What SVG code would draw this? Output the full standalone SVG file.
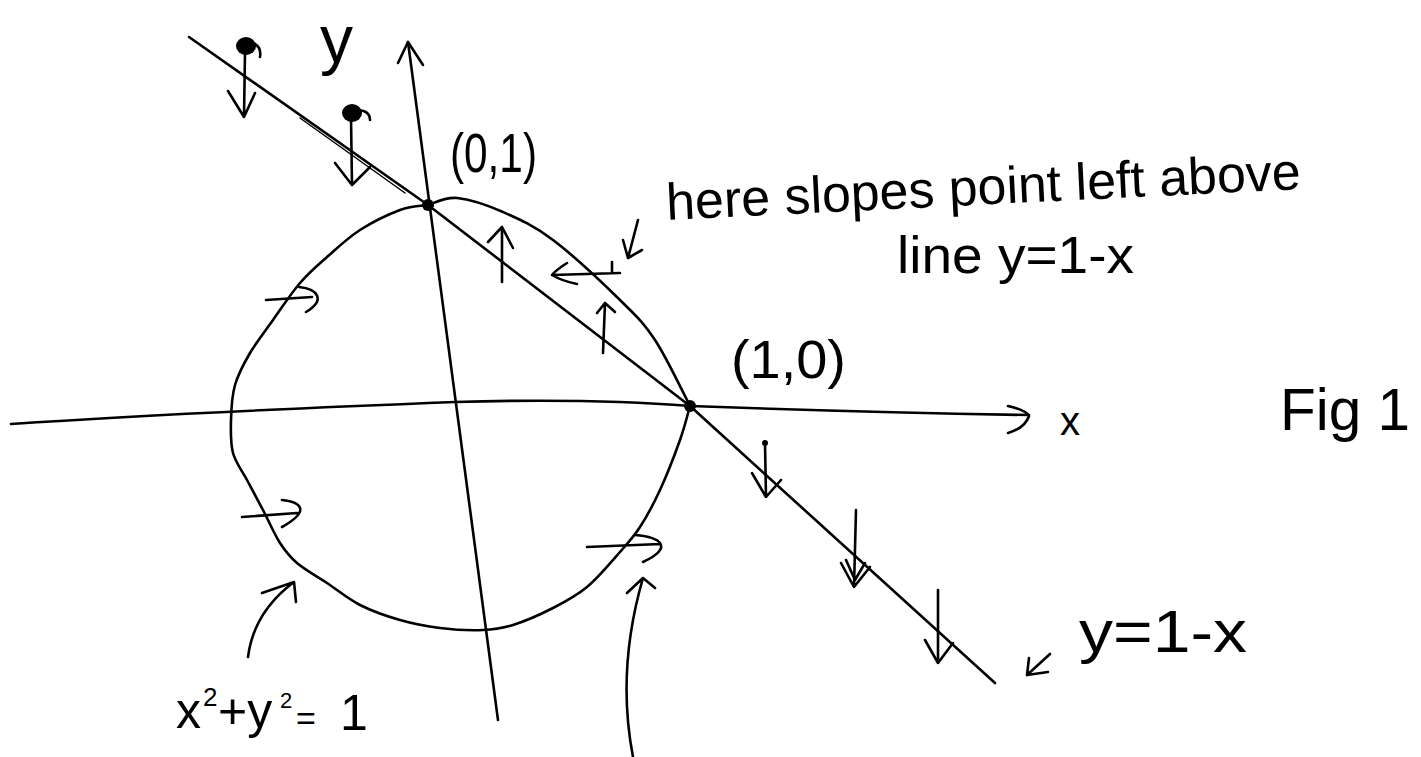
<svg xmlns="http://www.w3.org/2000/svg" width="1421" height="757" viewBox="0 0 1421 757">
<style>
.s{fill:none;stroke:#000;stroke-width:2.6;stroke-linecap:round;stroke-linejoin:round}
.t{font-family:"Liberation Sans",Arial,sans-serif;fill:#000}
.dot{fill:#000}
</style>
<rect width="1421" height="757" fill="#fff"/>
<g id="axes">
<path class="s" d="M11,424 C100,418 250,410 455,402 C560,399 640,402 690,406 C800,410 900,413 1029,415"/>
<path class="s" d="M1008,406 Q1026,410 1029,416 Q1025,428 1008,433"/>
<path class="s" d="M498,720 L408,42"/>
<path class="s" d="M398,63 L408,42 L423,65"/>
</g>
<g id="line-y-1-x">
<path class="s" d="M189,37 L428,205 L690,406 L995,683"/>
<path class="s" style="stroke-width:1.5" d="M300,118 L405,193"/>
</g>
<g id="circle">
<path class="s" d="M428,205 C432.8,203.8 444.5,196.8 457,198 C469.5,199.2 487,205 503,212 C519,219 533.5,225.3 553,240 C572.5,254.7 603,283.3 620,300 C637,316.7 643.3,322.3 655,340 C666.7,357.7 684.2,395 690,406"/>
<path class="s" d="M690,406 C688.3,411.7 685,426 680,440 C675,454 666.7,475.5 660,490 C653.3,504.5 646.7,516.7 640,527 C633.3,537.3 628.8,542 620,552 C611.2,562 598.2,577.7 587,587 C575.8,596.3 565.3,601.7 553,608 C540.7,614.3 524.7,621.3 513,625 C501.3,628.7 495.2,629.5 483,630 C470.8,630.5 453.8,629.7 440,628 C426.2,626.3 413.3,623.8 400,620 C386.7,616.2 372.2,611.2 360,605 C347.8,598.8 337.5,590 327,583 C316.5,576 304.8,569.7 297,563 C289.2,556.3 285.7,551.8 280,543 C274.3,534.2 268.5,520.5 263,510 C257.5,499.5 252,489.5 247,480 C242,470.5 235.7,463 233,453 C230.3,443 230.7,431.3 231,420 C231.3,408.7 231.8,396.2 235,385 C238.2,373.8 243.7,363.8 250,353 C256.3,342.2 264.7,331.7 273,320 C281.3,308.3 291,293.5 300,283 C309,272.5 317,265.8 327,257 C337,248.2 347.8,237.8 360,230 C372.2,222.2 388.7,214.2 400,210 C411.3,205.8 423.3,205.8 428,205"/>
</g>
<g id="points">
<circle class="dot" cx="428" cy="205" r="6"/>
<circle class="dot" cx="690" cy="406" r="6"/>
</g>
<g id="slope-arrows">
<ellipse class="dot" cx="246" cy="46" rx="10" ry="9"/>
<path class="s" d="M250,42 Q262,45 260,57"/>
<path class="s" d="M245,52 L244,117 M228,91 L244,117 L255,93"/>
<ellipse class="dot" cx="352" cy="113" rx="10" ry="9"/>
<path class="s" d="M356,110 Q370,110 370,120"/>
<path class="s" d="M351,118 L352,185 M335,163 L352,185 L370,167"/>
<path class="s" d="M502,282 L502,227 M488,242 L502,227 L513,248"/>
<path class="s" d="M603,353 L605,303 M597,313 L605,303 L615,312"/>
<path class="s" d="M620,273 L552,275 M567,263 Q556,270 552,275 Q562,281 577,284 M612,262 L612,272"/>
<path class="s" d="M266,300 L312,297 M299,287 C318,289 326,300 306,312"/>
<path class="s" d="M242,517 L297,513 M282,500 C300,502 312,510 282,527"/>
<path class="s" d="M587,547 L660,544 M635,535 C660,537 675,547 643,562"/>
<circle class="dot" cx="765" cy="443" r="3"/>
<path class="s" d="M765,443 L766,497 M752,473 L766,497 L781,480"/>
<path class="s" d="M856,510 L854,587 M841,563 L854,587 L870,567 M846,560 L855,580 L865,563"/>
<path class="s" d="M938,590 L938,663 M925,640 L938,663 L953,643"/>
</g>
<g id="pointers">
<path class="s" d="M638,220 L628,258 M623,240 L628,258 L642,250"/>
<path class="s" d="M1050,654 L1027,675 M1029,658 L1027,675 L1048,672"/>
<path class="s" d="M248,657 C252,625 270,600 294,582 M262,593 L294,582 L296,602"/>
<path class="s" d="M633,757 C622,700 625,640 643,578 M627,593 L643,578 L655,588"/>
</g>
<g id="labels">
<text class="t" x="320" y="62" font-size="66">y</text>
<text class="t" x="1060" y="435" font-size="40">x</text>
<text class="t" x="450" y="172" font-size="56" textLength="87" lengthAdjust="spacingAndGlyphs">(0,1)</text>
<text class="t" x="731" y="378" font-size="54" textLength="115" lengthAdjust="spacingAndGlyphs">(1,0)</text>
<text class="t" x="667" y="220" font-size="52" textLength="635" lengthAdjust="spacingAndGlyphs" transform="rotate(-2.8 667 220)">here slopes point left above</text>
<text class="t" x="897" y="273" font-size="52" textLength="237" lengthAdjust="spacingAndGlyphs">line y=1-x</text>
<text class="t" x="1280" y="430" font-size="60" textLength="130" lengthAdjust="spacingAndGlyphs">Fig 1</text>
<text class="t" x="1079" y="652" font-size="60" textLength="168" lengthAdjust="spacingAndGlyphs">y=1-x</text>
<text class="t" font-size="50"><tspan x="176" y="728">x</tspan><tspan x="203" y="706" font-size="26">2</tspan><tspan x="218" y="728">+y</tspan><tspan x="280" y="708" font-size="22">2</tspan><tspan x="296" y="730" font-size="34">=</tspan><tspan x="340" y="730">1</tspan></text>
</g>
</svg>
